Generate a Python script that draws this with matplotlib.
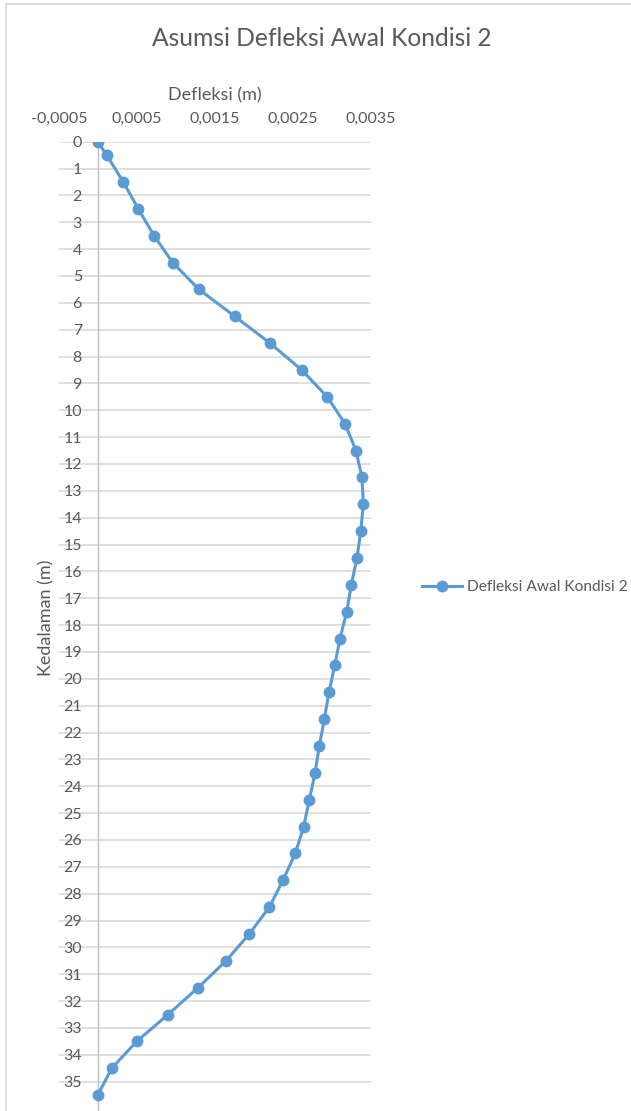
import matplotlib
matplotlib.use('Agg')
import matplotlib.pyplot as plt
from matplotlib.patches import Rectangle
from matplotlib.ticker import FuncFormatter

# data
kedalaman = [0, 0.5, 1.5, 2.5, 3.5, 4.5, 5.5, 6.5, 7.5, 8.5, 9.5, 10.5, 11.5, 12.5,
             13.5, 14.5, 15.5, 16.5, 17.5, 18.5, 19.5, 20.5, 21.5, 22.5, 23.5, 24.5,
             25.5, 26.5, 27.5, 28.5, 29.5, 30.5, 31.5, 32.5, 33.5, 34.5, 35.5]
defleksi = [0.0, 0.000114, 0.000327, 0.000519, 0.000721, 0.000960, 0.001297, 0.001755,
            0.002208, 0.002614, 0.002942, 0.003169, 0.003310, 0.003387, 0.003404,
            0.003371, 0.003323, 0.003250, 0.003191, 0.003105, 0.003037, 0.002964,
            0.002904, 0.002840, 0.002785, 0.002712, 0.002640, 0.002532, 0.002374,
            0.002199, 0.001942, 0.001644, 0.001285, 0.000900, 0.000499, 0.000178, 0.0]
x_ticks = [-0.0005, 0.0005, 0.0015, 0.0025, 0.0035]
y_ticks = list(range(0, 36))

judul = 'Asumsi Defleksi Awal Kondisi 2'
nama_seri = 'Defleksi Awal Kondisi 2'

plt.rcParams['font.family'] = ['Lato', 'DejaVu Sans']
abu = '#595959'
biru = '#5b9bd5'

W, H = 631, 1111
fig = plt.figure(figsize=(W / 100, H / 100), dpi=100)

# chart area border (cropped on right/bottom)
fig.patches.append(Rectangle((6 / W, -0.05), 1.2, 1 - 4 / H + 0.05, transform=fig.transFigure,
                             fill=False, edgecolor='#d9d9d9', linewidth=1.2))

left, right = 58.8, 370.8
top = 141.7
ppu = (1081.7 - 141.7) / 35
ymax = 36.5
bottom = top + ymax * ppu
ax = fig.add_axes([left / W, 1 - bottom / H, (right - left) / W, (bottom - top) / H])

ax.plot(defleksi, kedalaman, color=biru, linewidth=2.2, marker='o', markersize=7.5,
        label=nama_seri, zorder=3)

ax.set_xlim(-0.0005, 0.0035)
ax.set_ylim(ymax, 0)
ax.set_xticks(x_ticks)
ax.set_yticks(y_ticks)
ax.xaxis.set_major_formatter(FuncFormatter(lambda v, p: f'{v:.4f}'.replace('.', ',')))
ax.xaxis.tick_top()
ax.xaxis.set_label_position('top')

for s in ['top', 'right', 'bottom']:
    ax.spines[s].set_visible(False)
ax.spines['left'].set_position(('data', 0))
ax.spines['left'].set_color('#bfbfbf')
ax.spines['left'].set_linewidth(1.0)

ax.grid(axis='y', color='#d9d9d9', linewidth=1.2)
ax.set_axisbelow(True)
ax.tick_params(axis='x', length=0, pad=11.3, labelsize=11.5, labelcolor=abu)
ax.tick_params(axis='y', length=0, pad=11.4, labelsize=11.5, labelcolor=abu)

ax.set_xlabel('Defleksi (m)', fontsize=13, color=abu, labelpad=8)
fig.text(46.7 / W, 1 - 617.5 / H, 'Kedalaman (m)', rotation=90, ha='center', va='center',
         fontsize=13, color=abu)

fig.text(322 / W, 1 - 38 / H, judul, ha='center', va='center', fontsize=17.7, color=abu)

fig.legend(loc='center left', bbox_to_anchor=(422 / W, 1 - 587 / H), frameon=False,
           borderpad=0, borderaxespad=0, handlelength=2.6, handletextpad=0.3,
           fontsize=11.2, labelcolor=abu)

fig.savefig('out.png', dpi=100)
